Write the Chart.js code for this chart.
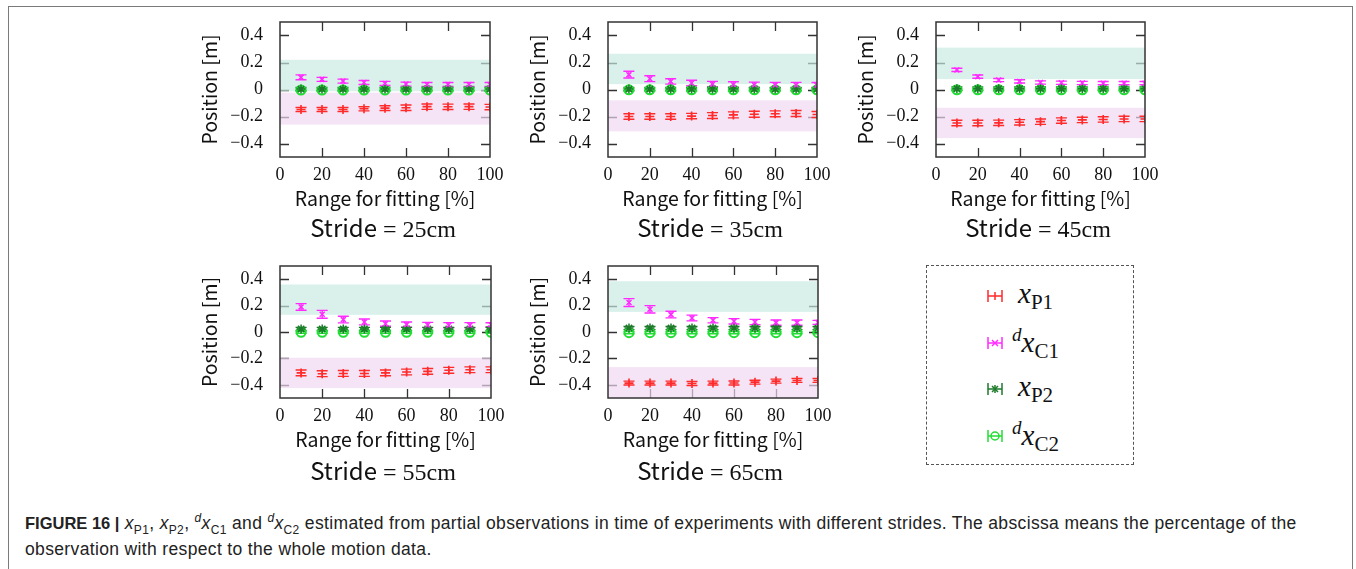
<!DOCTYPE html>
<html>
<head>
<meta charset="utf-8">
<script src="https://cdn.jsdelivr.net/npm/chart.js@4"></script>
<style>
  html, body { margin:0; padding:0; background:#fff; width:1356px; height:569px; overflow:hidden; }
  #frame { position:absolute; left:8px; top:6px; width:1345px; height:620px; border:1.5px solid #7a7a7a; box-sizing:border-box; }
  canvas { position:absolute; }
  .stride { position:absolute; width:240px; text-align:center; font-size:24px; color:#111; white-space:nowrap; line-height:28px; }
  .stride .s { font-family:"Noto Sans CJK JP","Noto Sans",sans-serif; }
  .stride .m { font-family:"Liberation Serif",serif; }
  #legend { position:absolute; left:926px; top:265px; width:208px; height:200px; box-sizing:border-box;
            border:1.5px dashed #555; }
  .lrow { position:absolute; left:0; height:30px; }
  .lrow svg { position:absolute; left:59px; top:8px; }
  .lrow .t { position:absolute; left:91px; top:-4px; font-family:"Liberation Serif",serif; font-size:29px; color:#111; white-space:nowrap; }
  .lrow .t i { font-style:italic; }
  .lrow .t sub { font-size:21px; vertical-align:-6px; }
  .lrow .t sup { font-size:19px; vertical-align:11px; font-style:italic; margin-right:0px; }
  #caption { position:absolute; left:25px; top:510px; width:1320px; font-family:"Liberation Sans",Arial,sans-serif; font-size:17.5px; letter-spacing:0.35px; line-height:26px; color:#222; white-space:nowrap; }
  #caption b { font-size:16.5px; letter-spacing:0; }
  #caption sub, #caption sup { font-size:12px; line-height:0; }
</style>
</head>
<body>
<div id="frame"></div>

<div id="legend">
  <div class="lrow" style="top:15px">
    <svg width="18" height="14"><g stroke="#ff2a2a" stroke-width="1.5" fill="none"><line x1="2" y1="1" x2="2" y2="13"/><line x1="16" y1="1" x2="16" y2="13"/><line x1="2" y1="7" x2="16" y2="7"/><line x1="9" y1="3" x2="9" y2="11"/></g></svg>
    <div class="t"><i>x</i><sub>P1</sub></div>
  </div>
  <div class="lrow" style="top:62px">
    <svg width="18" height="14"><g stroke="#ff2aff" stroke-width="1.5" fill="none"><line x1="2" y1="1" x2="2" y2="13"/><line x1="16" y1="1" x2="16" y2="13"/><line x1="2" y1="7" x2="16" y2="7"/><line x1="6" y1="4" x2="12" y2="10"/><line x1="12" y1="4" x2="6" y2="10"/></g></svg>
    <div class="t" style="left:85px"><sup>d</sup><i>x</i><sub>C1</sub></div>
  </div>
  <div class="lrow" style="top:108px">
    <svg width="18" height="14"><g stroke="#1d7a2a" stroke-width="1.5" fill="none"><line x1="2" y1="1" x2="2" y2="13"/><line x1="16" y1="1" x2="16" y2="13"/><line x1="2" y1="7" x2="16" y2="7"/><line x1="9" y1="3" x2="9" y2="11"/><line x1="6" y1="4" x2="12" y2="10"/><line x1="12" y1="4" x2="6" y2="10"/></g></svg>
    <div class="t"><i>x</i><sub>P2</sub></div>
  </div>
  <div class="lrow" style="top:155px">
    <svg width="18" height="14"><g stroke="#22dd33" stroke-width="1.5" fill="none"><line x1="2" y1="1" x2="2" y2="13"/><line x1="16" y1="1" x2="16" y2="13"/><line x1="2" y1="7" x2="16" y2="7"/><circle cx="9" cy="7" r="4"/></g></svg>
    <div class="t" style="left:85px"><sup>d</sup><i>x</i><sub>C2</sub></div>
  </div>
</div>

<div id="caption"><b>FIGURE 16 |</b> <i>x</i><sub>P1</sub>, <i>x</i><sub>P2</sub>, <sup><i>d</i></sup><i>x</i><sub>C1</sub> and <sup><i>d</i></sup><i>x</i><sub>C2</sub> estimated from partial observations in time of experiments with different strides. The abscissa means the percentage of the<br>observation with respect to the whole motion data.</div>

<script>
// ---------------- DATA ----------------
const ranges = [10, 20, 30, 40, 50, 60, 70, 80, 90, 100];
const xTicks = [0, 20, 40, 60, 80, 100];
const yTicks = [-0.4, -0.2, 0, 0.2, 0.4];
const strides = ['25', '35', '45', '55', '65'];

// Stride 25 cm
const xP1_25  = [-0.148, -0.148, -0.148, -0.143, -0.138, -0.135, -0.127, -0.128, -0.127, -0.130];
const eP1_25  = [0.015, 0.015, 0.015, 0.015, 0.018, 0.020, 0.020, 0.020, 0.020, 0.020];
const dxC1_25 = [0.090, 0.075, 0.062, 0.052, 0.045, 0.040, 0.037, 0.037, 0.037, 0.037];
const eC1_25  = [0.018, 0.015, 0.015, 0.015, 0.015, 0.015, 0.015, 0.015, 0.015, 0.015];
const xP2_25  = [0.003, 0.003, 0.003, 0.003, 0.003, 0.003, 0.003, 0.003, 0.003, 0.003];
const dxC2_25 = [-0.004, -0.004, -0.004, -0.004, -0.004, -0.004, -0.004, -0.004, -0.004, -0.004];
const tealBand_25 = [0.22, -0.013];
const pinkBand_25 = [-0.023, -0.26];

// Stride 35 cm
const xP1_35  = [-0.200, -0.200, -0.200, -0.197, -0.193, -0.188, -0.183, -0.180, -0.178, -0.185];
const eP1_35  = [0.020, 0.020, 0.020, 0.020, 0.022, 0.022, 0.022, 0.022, 0.022, 0.022];
const dxC1_35 = [0.110, 0.080, 0.060, 0.048, 0.040, 0.037, 0.035, 0.033, 0.033, 0.032];
const eC1_35  = [0.025, 0.022, 0.020, 0.020, 0.020, 0.020, 0.020, 0.020, 0.020, 0.020];
const xP2_35  = [0.003, 0.003, 0.003, 0.003, 0.003, 0.003, 0.003, 0.003, 0.003, 0.003];
const dxC2_35 = [-0.002, -0.002, -0.002, -0.002, -0.002, -0.002, -0.002, -0.002, -0.002, -0.002];
const tealBand_35 = [0.265, 0.04];
const pinkBand_35 = [-0.08, -0.31];

// Stride 45 cm
const xP1_45  = [-0.248, -0.248, -0.247, -0.243, -0.238, -0.230, -0.225, -0.222, -0.218, -0.218];
const eP1_45  = [0.020, 0.020, 0.020, 0.020, 0.020, 0.020, 0.020, 0.020, 0.020, 0.020];
const dxC1_45 = [0.145, 0.095, 0.070, 0.060, 0.052, 0.050, 0.048, 0.047, 0.047, 0.047];
const eC1_45  = [0.012, 0.012, 0.012, 0.012, 0.012, 0.012, 0.012, 0.012, 0.012, 0.012];
const xP2_45  = [0.006, 0.006, 0.006, 0.006, 0.006, 0.006, 0.006, 0.006, 0.006, 0.006];
const dxC2_45 = [-0.002, -0.002, -0.002, -0.002, -0.002, -0.002, -0.002, -0.002, -0.002, -0.002];
const tealBand_45 = [0.31, 0.077];
const pinkBand_45 = [-0.135, -0.36];

// Stride 55 cm
const xP1_55  = [-0.310, -0.316, -0.314, -0.314, -0.310, -0.303, -0.298, -0.290, -0.286, -0.286];
const eP1_55  = [0.022, 0.022, 0.022, 0.022, 0.022, 0.022, 0.022, 0.022, 0.022, 0.022];
const dxC1_55 = [0.190, 0.134, 0.094, 0.076, 0.063, 0.056, 0.053, 0.051, 0.051, 0.055];
const eC1_55  = [0.025, 0.030, 0.025, 0.022, 0.020, 0.020, 0.020, 0.020, 0.020, 0.015];
const xP2_55  = [0.023, 0.023, 0.023, 0.023, 0.023, 0.023, 0.023, 0.023, 0.023, 0.023];
const dxC2_55 = [-0.002, -0.002, -0.002, -0.002, -0.002, -0.002, -0.002, -0.002, -0.002, -0.002];
const tealBand_55 = [0.36, 0.13];
const pinkBand_55 = [-0.195, -0.425];

// Stride 65 cm
const xP1_65  = [-0.387, -0.387, -0.387, -0.390, -0.387, -0.386, -0.380, -0.372, -0.367, -0.367];
const eP1_65  = [0.015, 0.015, 0.015, 0.015, 0.015, 0.015, 0.015, 0.015, 0.015, 0.015];
const dxC1_65 = [0.223, 0.172, 0.132, 0.106, 0.089, 0.081, 0.076, 0.071, 0.071, 0.073];
const eC1_65  = [0.030, 0.028, 0.025, 0.022, 0.020, 0.020, 0.020, 0.020, 0.020, 0.015];
const xP2_65  = [0.030, 0.030, 0.030, 0.030, 0.030, 0.030, 0.030, 0.030, 0.030, 0.030];
const dxC2_65 = [-0.005, -0.005, -0.005, -0.005, -0.005, -0.005, -0.005, -0.005, -0.005, -0.005];
const tealBand_65 = [0.385, 0.152];
const pinkBand_65 = [-0.266, -0.5];

const eP2 = 0.012;   // error half-length of xP2
const eC2 = 0.008;   // error half-length of dxC2

// ---------------- LAYOUT / STYLE ----------------
const RED = '#ff2a2a', MAG = '#ff2aff', DKG = '#1d7a2a', LTG = '#22dd33';
const YW = 90, XH = 60, PT = 10, PR = 25, TL = 9;
// chart area boxes [left, top, right, bottom]
const boxes = [
  [280, 22, 490, 157],
  [608, 22, 817, 157],
  [936, 22, 1145, 157],
  [280, 266, 491, 398],
  [608, 266, 818, 398]
];
const strideCenters = [[383, 227], [710, 227], [1038, 227], [383, 470], [710, 470]];

const sets = {
  '25': [xP1_25, eP1_25, dxC1_25, eC1_25, xP2_25, dxC2_25, tealBand_25, pinkBand_25],
  '35': [xP1_35, eP1_35, dxC1_35, eC1_35, xP2_35, dxC2_35, tealBand_35, pinkBand_35],
  '45': [xP1_45, eP1_45, dxC1_45, eC1_45, xP2_45, dxC2_45, tealBand_45, pinkBand_45],
  '55': [xP1_55, eP1_55, dxC1_55, eC1_55, xP2_55, dxC2_55, tealBand_55, pinkBand_55],
  '65': [xP1_65, eP1_65, dxC1_65, eC1_65, xP2_65, dxC2_65, tealBand_65, pinkBand_65]
};

const framePlugin = {
  id: 'frame',
  beforeDatasetsDraw(chart) {
    const {ctx, chartArea: a, scales: {x, y}} = chart;
    const cfg = chart.options.plugins.frame;
    ctx.save();
    // inward tick marks
    ctx.strokeStyle = '#333'; ctx.lineWidth = 1.3;
    ctx.beginPath();
    xTicks.forEach(v => {
      if (v <= x.min || v >= x.max) return;
      const px = Math.round(x.getPixelForValue(v)) + 0.5;
      ctx.moveTo(px, a.top); ctx.lineTo(px, a.top + TL);
      ctx.moveTo(px, a.bottom); ctx.lineTo(px, a.bottom - TL);
    });
    yTicks.forEach(v => {
      const py = Math.round(y.getPixelForValue(v)) + 0.5;
      ctx.moveTo(a.left, py); ctx.lineTo(a.left + TL, py);
      ctx.moveTo(a.right, py); ctx.lineTo(a.right - TL, py);
    });
    ctx.stroke();
    // shaded bands
    cfg.bands.forEach(b => {
      const y1 = y.getPixelForValue(b.range[0]);
      const y2 = y.getPixelForValue(b.range[1]);
      ctx.fillStyle = b.color;
      ctx.fillRect(a.left, y1, a.right - a.left, y2 - y1);
    });
    // error bars
    ctx.beginPath();
    ctx.rect(a.left, a.top, a.right - a.left, a.bottom - a.top);
    ctx.clip();
    chart.data.datasets.forEach((ds, i) => {
      ctx.strokeStyle = ds.borderColor; ctx.lineWidth = 1.4;
      ctx.beginPath();
      ds.data.forEach((p, j) => {
        const e = Array.isArray(ds.errors) ? ds.errors[j] : ds.errors;
        const px = x.getPixelForValue(p.x);
        const yh = y.getPixelForValue(p.y + e), yl = y.getPixelForValue(p.y - e);
        ctx.moveTo(px, yh); ctx.lineTo(px, yl);
        ctx.moveTo(px - 5.5, yh); ctx.lineTo(px + 5.5, yh);
        ctx.moveTo(px - 5.5, yl); ctx.lineTo(px + 5.5, yl);
      });
      ctx.stroke();
    });
    ctx.restore();
  },
  afterDraw(chart) {
    const {ctx, chartArea: a} = chart;
    ctx.save();
    ctx.strokeStyle = '#333'; ctx.lineWidth = 1.5;
    ctx.strokeRect(a.left, a.top, a.right - a.left, a.bottom - a.top);
    ctx.restore();
  }
};

const fmtY = v => v === 0 ? '0' : (v < 0 ? '\u2212' + Math.abs(v).toFixed(1) : v.toFixed(1));
const pts = arr => ranges.map((r, i) => ({x: r, y: arr[i]}));

strides.forEach((s, k) => {
  const [l, t, r, b] = boxes[k];
  const [p1, ep1, c1, ec1, p2, c2, teal, pink] = sets[s];
  const cv = document.createElement('canvas');
  const W = (r - l) + YW + PR, H = (b - t) + PT + XH;
  cv.width = W; cv.height = H;
  cv.style.left = (l - YW) + 'px'; cv.style.top = (t - PT) + 'px';
  cv.style.width = W + 'px'; cv.style.height = H + 'px';
  document.body.appendChild(cv);

  new Chart(cv, {
    type: 'scatter',
    data: {
      datasets: [
        {label: 'xP1', data: pts(p1), errors: ep1, pointStyle: 'cross', radius: 4.5, borderColor: RED, backgroundColor: RED, borderWidth: 1.6, clip: 0},
        {label: 'dxC1', data: pts(c1), errors: ec1, pointStyle: 'crossRot', radius: 3.5, borderColor: MAG, backgroundColor: MAG, borderWidth: 1.5, clip: 0},
        {label: 'xP2', data: pts(p2), errors: eP2, pointStyle: 'star', radius: 4.5, borderColor: DKG, backgroundColor: DKG, borderWidth: 1.5, clip: 0},
        {label: 'dxC2', data: pts(c2), errors: eC2, pointStyle: 'circle', radius: 4.5, borderColor: LTG, backgroundColor: 'rgba(0,0,0,0)', borderWidth: 2, clip: 0}
      ]
    },
    options: {
      responsive: false, animation: false, events: [],
      layout: {padding: {left: 0, top: PT, right: PR, bottom: 0}},
      plugins: {
        legend: {display: false}, tooltip: {enabled: false},
        frame: {bands: [{range: teal, color: 'rgba(200,235,225,0.68)'}, {range: pink, color: 'rgba(240,215,242,0.68)'}]}
      },
      scales: {
        x: {
          type: 'linear', min: 0, max: 100,
          afterBuildTicks: sc => { sc.ticks = xTicks.map(v => ({value: v})); },
          afterFit: sc => { sc.height = XH; sc.paddingLeft = 0; sc.paddingRight = 0; },
          grid: {display: false, drawTicks: false}, border: {display: false},
          ticks: {font: {family: 'Liberation Serif', size: 18}, color: '#111', padding: 7, maxRotation: 0, autoSkip: false},
          title: {display: true, text: 'Range for fitting [%]', color: '#111',
                  font: {family: '"Noto Sans CJK JP", "Noto Sans", sans-serif', size: 19.5}, padding: {top: 0, bottom: 7}}
        },
        y: {
          type: 'linear', min: -0.5, max: 0.5,
          afterBuildTicks: sc => { sc.ticks = yTicks.map(v => ({value: v})); },
          afterFit: sc => { sc.width = YW; sc.paddingTop = 0; sc.paddingBottom = 0; },
          grid: {display: false, drawTicks: false}, border: {display: false},
          ticks: {font: {family: 'Liberation Serif', size: 18}, color: '#111', padding: 17, callback: fmtY},
          title: {display: true, text: 'Position [m]', color: '#111',
                  font: {family: '"Noto Sans CJK JP", "Noto Sans", sans-serif', size: 19.5}, padding: {top: 8, bottom: 0}}
        }
      }
    },
    plugins: [framePlugin]
  });

  const lab = document.createElement('div');
  lab.className = 'stride';
  lab.style.left = (strideCenters[k][0] - 120) + 'px';
  lab.style.top = (strideCenters[k][1] - 14) + 'px';
  lab.innerHTML = '<span class="s">Stride</span><span class="m"> = ' + s + 'cm</span>';
  document.body.appendChild(lab);
});
</script>
</body>
</html>
